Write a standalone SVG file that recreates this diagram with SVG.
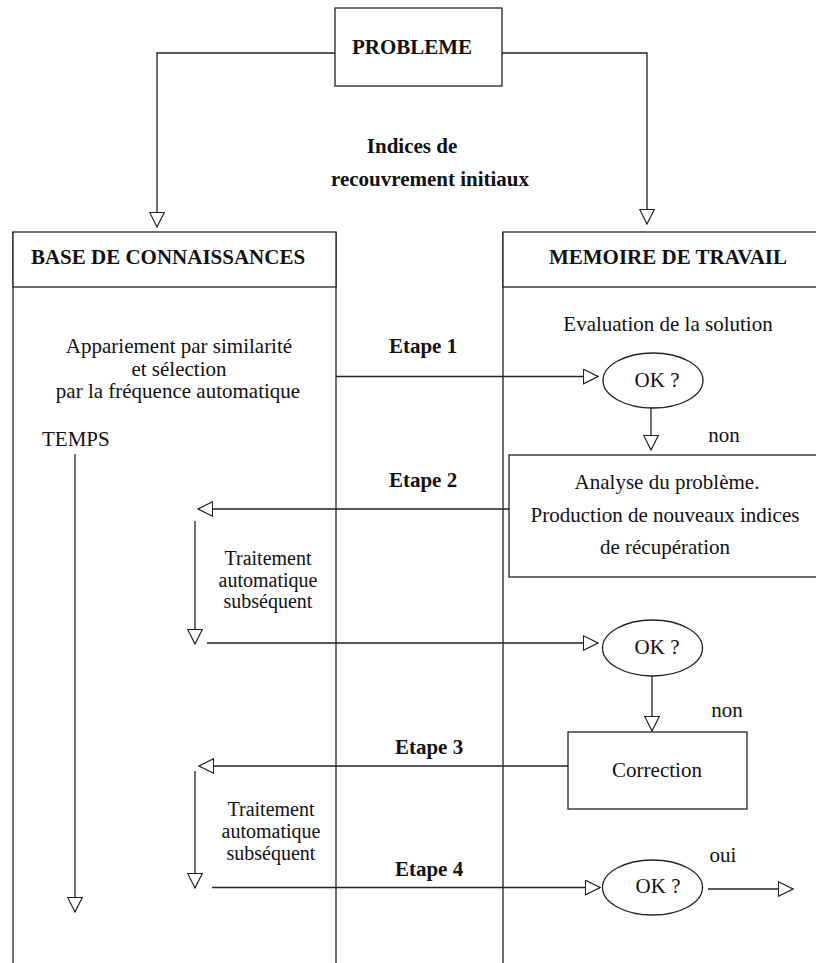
<svg xmlns="http://www.w3.org/2000/svg" width="816" height="963" viewBox="0 0 816 963" font-family="'Liberation Serif', 'DejaVu Serif', serif">
<defs>
<style>
text{font-family:'Liberation Serif','DejaVu Serif',serif;}
.t{font-size:21px;fill:#111;}
.s{font-size:20px;}
.b{font-weight:bold;}
.m{text-anchor:middle;}
.box{fill:#fff;stroke:#222;stroke-width:1.3;}
.ln{fill:none;stroke:#222;stroke-width:1.3;}
.c{fill:none;stroke:#222;stroke-width:1.3;marker-end:url(#arr);}
</style>
<marker id="arr" viewBox="0 0 16 16" refX="15.3" refY="8" markerWidth="16" markerHeight="16" markerUnits="userSpaceOnUse" orient="auto">
<path d="M0.7,0.7 L15.3,8 L0.7,15.3 Z" fill="#fff" stroke="#222" stroke-width="1.2"/>
</marker>
</defs>
<rect width="816" height="963" fill="#fff"/>

<g id="lanes">
<line class="ln" x1="13" y1="232" x2="13" y2="963"/>
<line class="ln" x1="336" y1="232" x2="336" y2="963"/>
<line class="ln" x1="503" y1="232" x2="503" y2="963"/>
</g>

<g id="connectors">
<path class="c" d="M335 53 H157 V227"/>
<path class="c" d="M502 53 H647 V224"/>
<path class="c" d="M336 376.5 H598"/>
<path class="c" d="M651 408 V450"/>
<path class="c" d="M509 509 H198"/>
<path class="c" d="M195 521 V644"/>
<path class="c" d="M207 643 H598"/>
<path class="c" d="M652 676 V731"/>
<path class="c" d="M568 766 H199"/>
<path class="c" d="M195 771 V888"/>
<path class="c" d="M212 887.5 H600"/>
<path class="c" d="M708 889 H793"/>
<path class="c" d="M75 454 V912"/>
</g>

<g id="probleme">
<rect class="box" x="335" y="8" width="167" height="78"/>
<text class="t b m" x="412" y="54">PROBLEME</text>
</g>

<g id="indices">
<text class="t b m" x="412" y="153">Indices de</text>
<text class="t b m" x="430" y="186">recouvrement initiaux</text>
</g>

<g id="base">
<rect class="box" x="13" y="232" width="323" height="55"/>
<text class="t b m" x="168" y="264">BASE DE CONNAISSANCES</text>
</g>

<g id="memoire">
<rect class="box" x="503" y="232" width="330" height="55"/>
<text class="t b m" x="668" y="264">MEMOIRE DE TRAVAIL</text>
</g>

<g id="appariement">
<text class="t m" x="179" y="353">Appariement par similarité</text>
<text class="t m" x="179" y="376">et sélection</text>
<text class="t m" x="178" y="398">par la fréquence automatique</text>
</g>

<g id="temps">
<text class="t" x="42" y="446">TEMPS</text>
</g>

<g id="evaluation">
<text class="t m" x="668" y="331">Evaluation de la solution</text>
</g>

<g id="etapes">
<text class="t b m" x="423" y="353">Etape 1</text>
<text class="t b m" x="423" y="487">Etape 2</text>
<text class="t b m" x="429" y="754">Etape 3</text>
<text class="t b m" x="429" y="876">Etape 4</text>
</g>

<g id="ok1">
<ellipse class="box" cx="653" cy="380.5" rx="50" ry="27.5"/>
<text class="t m" x="657" y="387">OK ?</text>
</g>
<text class="t m" id="non1" x="724" y="442">non</text>

<g id="analyse">
<rect class="box" x="509" y="455" width="330" height="122"/>
<text class="t m" x="667" y="489">Analyse du problème.</text>
<text class="t m" x="665" y="522">Production de nouveaux indices</text>
<text class="t m" x="665" y="554">de récupération</text>
</g>

<g id="traitement1">
<text class="t s m" x="268" y="565">Traitement</text>
<text class="t s m" x="268" y="587">automatique</text>
<text class="t s m" x="268" y="608">subséquent</text>
</g>

<g id="ok2">
<ellipse class="box" cx="652.5" cy="648" rx="50" ry="28"/>
<text class="t m" x="657" y="654">OK ?</text>
</g>
<text class="t m" id="non2" x="727" y="717">non</text>

<g id="correction">
<rect class="box" x="568" y="732" width="179" height="77"/>
<text class="t m" x="657" y="777">Correction</text>
</g>

<g id="traitement2">
<text class="t s m" x="271" y="816">Traitement</text>
<text class="t s m" x="271" y="838">automatique</text>
<text class="t s m" x="271" y="860">subséquent</text>
</g>

<g id="ok3">
<ellipse class="box" cx="652.5" cy="887.5" rx="50" ry="27.5"/>
<text class="t m" x="658" y="893">OK ?</text>
</g>
<text class="t m" id="oui" x="723" y="862">oui</text>
</svg>
